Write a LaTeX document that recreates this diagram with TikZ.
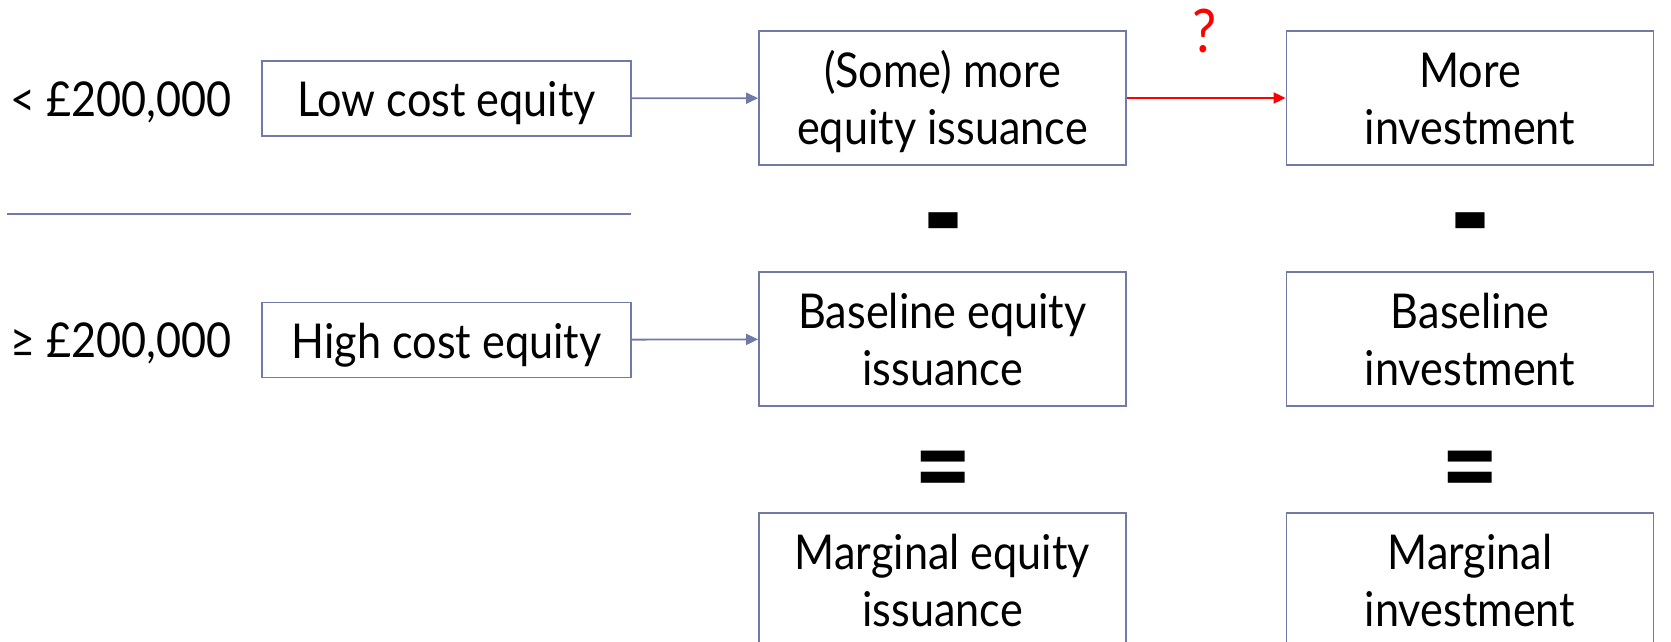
\documentclass[tikz,border=0pt]{standalone}
\usepackage{fontspec}
\setmainfont{Lato}[FakeStretch=0.9]
\usetikzlibrary{arrows.meta}
\definecolor{boxc}{RGB}{112,122,166}
\begin{document}
\begin{tikzpicture}[x=1pt,y=-1pt,
  txt/.style={font=\fontsize{48}{57}\selectfont},
  box/.style={txt,draw=boxc,line width=1.8pt,align=center,inner sep=0pt},
  smallbox/.style={box,minimum width=369pt,minimum height=75pt,text height=37pt,text depth=0pt},
  bigbox/.style={box,minimum width=367pt,minimum height=134pt,text height=103pt,text depth=10pt},
  conn/.style={draw=boxc,line width=1.8pt,-{Triangle[length=12pt,width=11pt]}},
  op/.style={inner sep=0pt,anchor=north,font=\fontsize{100}{100}\bfseries},
]
\useasboundingbox (0,0) rectangle (1671,642);
% left labels
\node[txt,anchor=base west,inner sep=0pt] (lt) at (10,117) {< £200,000};
\node[txt,anchor=base west,inner sep=0pt] (ge) at (10,357) {≥ £200,000};
% left boxes
\node[smallbox] (low) at (446.5,98.5) {Low cost equity};
\node[smallbox] (high) at (446.5,340) {High cost equity};
% separator
\coordinate (s1) at (7,214);
\coordinate (s2) at (631,214);
\draw[boxc,line width=1.8pt] (s1) -- (s2);
% right boxes
\node[bigbox] (some) at (942.5,98) {(Some) more\\equity issuance};
\node[bigbox] (more) at (1470,98) {More\\investment};
\node[bigbox] (base) at (942.5,339) {Baseline equity\\issuance};
\node[bigbox] (baseinv) at (1470,339) {Baseline\\investment};
\node[bigbox] (marg) at (942.5,580) {Marginal equity\\issuance};
\node[bigbox] (marginv) at (1470,580) {Marginal\\investment};
% operators
\node[op] (m1) at (943,213) {\scalebox{1.25}[1.55]{-}};
\node[op] (m2) at (1470,213) {\scalebox{1.25}[1.55]{-}};
\node[op] (e1) at (943,451) {\scalebox{1.1}[1.2]{=}};
\node[op] (e2) at (1470,451) {\scalebox{1.1}[1.2]{=}};
% question mark
\node[text=red,anchor=base,inner sep=0pt,font=\fontsize{60}{60}\selectfont] (q) at (1205,53) {?};
% connectors
\draw[conn] (low) -- (some);
\draw[conn] (high) -- (base);
\draw[conn,draw=red] (some) -- (more);
\end{tikzpicture}
\end{document}
